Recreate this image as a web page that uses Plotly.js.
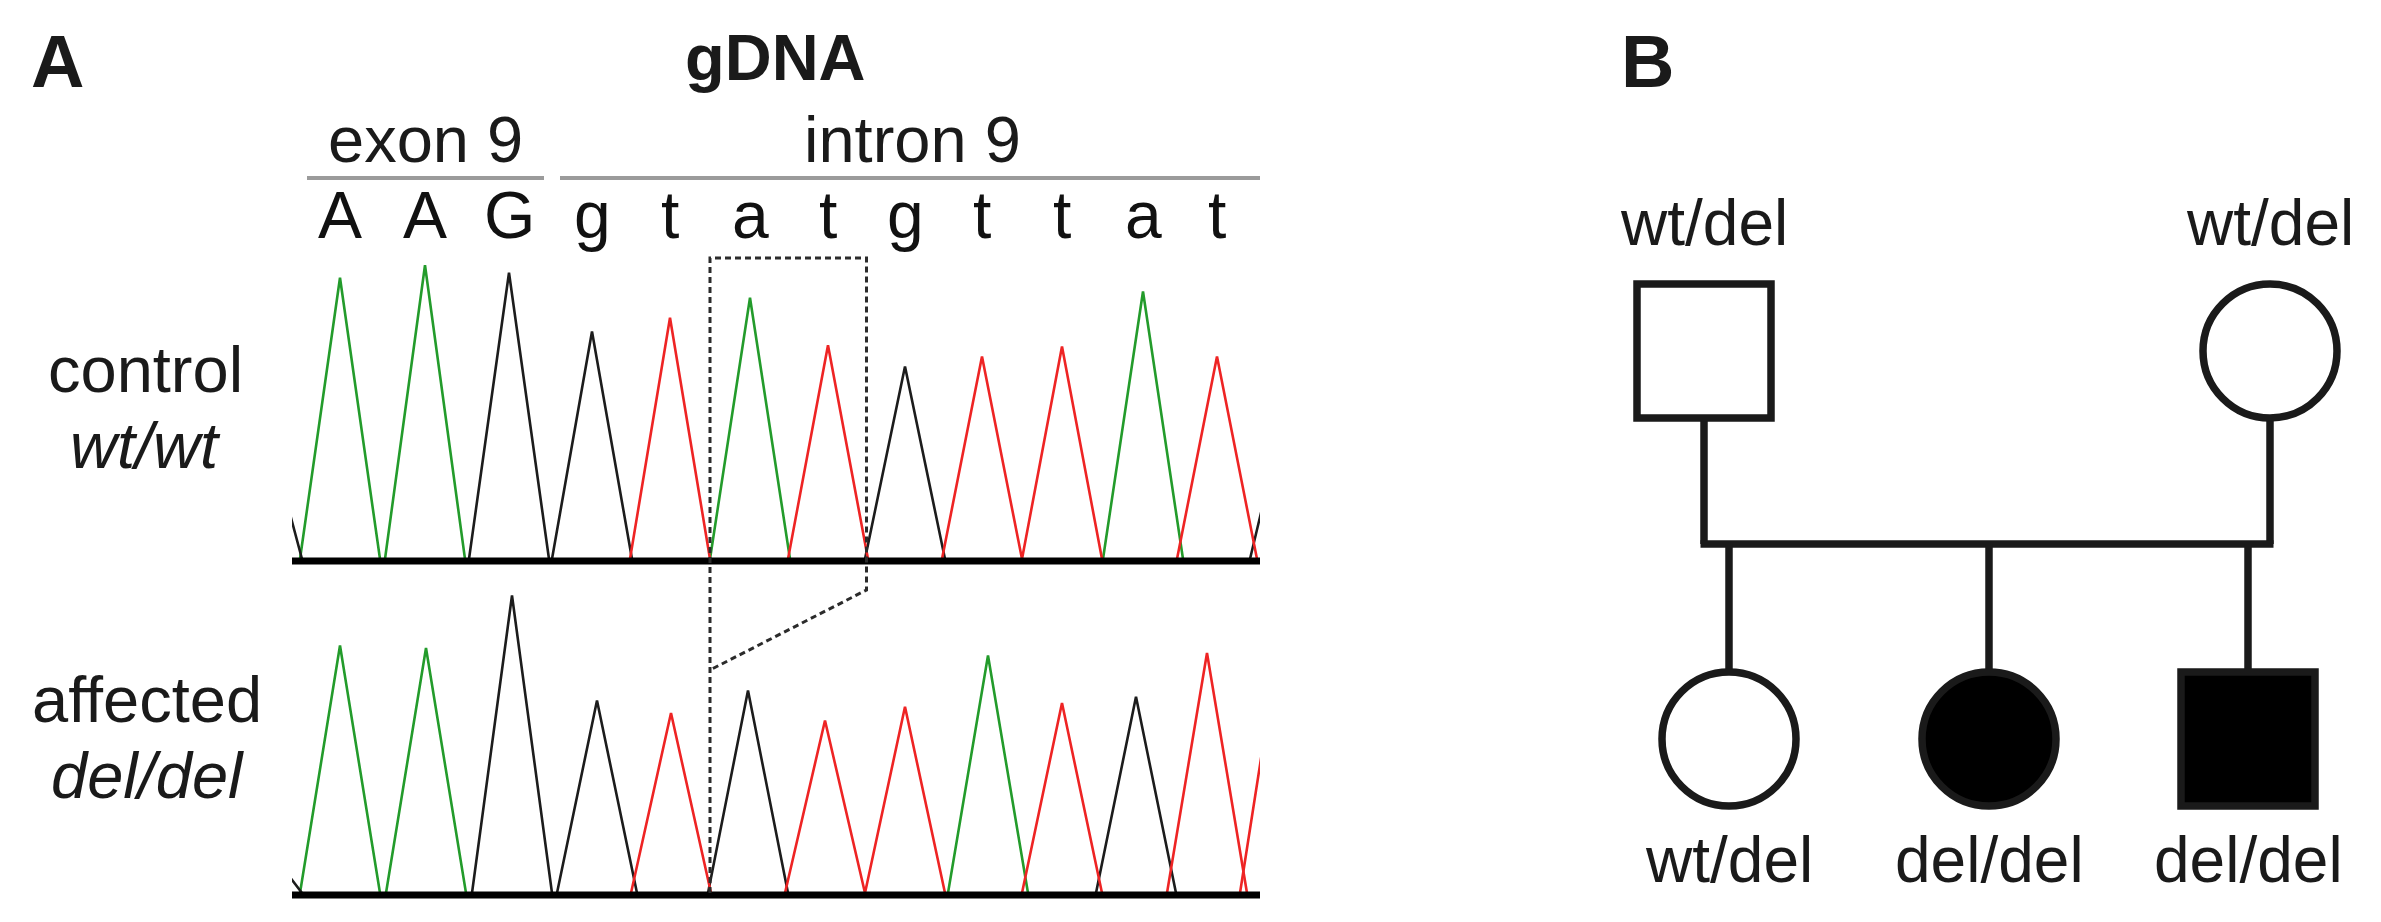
<!DOCTYPE html>
<html>
<head>
<meta charset="utf-8">
<script src="https://cdn.plot.ly/plotly-3.0.1.min.js"></script>
<style>
  html, body { margin: 0; padding: 0; background: #fff; }
  #chart { width: 2381px; height: 922px; }
</style>
</head>
<body>
<div id="chart"></div>
<script>
// sequence read above the traces
const seqLetters = ['A','A','G','g','t','a','t','g','t','t','a','t'];

// control (wt/wt) trace: scan position, called base, peak signal
// first and last entries are the partial peaks cut by the trace edges
const controlScan   = [-30, 48, 133, 217, 300, 378, 458, 536, 613, 690, 770, 851, 925, 998];
const controlBase   = ['G','A','A','G','G','T','A','T','G','T','T','A','T','G'];
const controlSignal = [600, 1125, 1175, 1145, 910, 965, 1045, 855, 770, 810, 850, 1070, 810, 672];

// affected (del/del) trace
const affectedScan   = [-30, 48, 134, 220, 305, 379, 456, 533, 613, 696, 770, 844, 915, 988];
const affectedBase   = ['G','A','A','G','G','T','G','T','T','A','T','G','T','T'];
const affectedSignal = [210, 990, 980, 1190, 770, 720, 810, 690, 745, 950, 760, 785, 960, 1024];

// pedigree
const parentGeno = ['wt/del', 'wt/del'];
const parentSex  = ['M', 'F'];
const childGeno  = ['wt/del', 'del/del', 'del/del'];
const childSex   = ['F', 'F', 'M'];
const childAffected = [false, true, true];

const W = 2381, H = 922;
const FONT = '"Liberation Sans", Arial, Helvetica, sans-serif';
const channelColor = {A: '#239b2b', G: '#1c1c1c', T: '#ee2424', C: '#2030c8'};
const HALF = 40; // half width of a peak in scan units

const px = x => x / W;
const py = y => 1 - y / H;

// one trace per channel, peaks separated by nulls
function traceSet(scan, base, signal, yaxis) {
  const out = [];
  Object.keys(channelColor).forEach(ch => {
    const xs = [], ys = [];
    scan.forEach((s, i) => {
      if (base[i] !== ch) return;
      xs.push(s - HALF, s, s + HALF, null);
      ys.push(0, signal[i], 0, null);
    });
    if (xs.length) {
      out.push({
        type: 'scatter', mode: 'lines', x: xs, y: ys, yaxis: yaxis,
        line: {color: channelColor[ch], width: 2.6},
        hoverinfo: 'skip', connectgaps: false
      });
    }
  });
  return out;
}

const data = [
  ...traceSet(controlScan, controlBase, controlSignal, 'y'),
  ...traceSet(affectedScan, affectedBase, affectedSignal, 'y2')
];

const shapes = [];
const annotations = [];

// thick baselines under the traces
['y', 'y2'].forEach(ax => {
  shapes.push({type: 'line', xref: 'x', yref: ax, x0: 0, x1: 968, y0: -8, y1: -8,
    line: {color: '#000', width: 7}});
});

// exon / intron bars
shapes.push({type: 'line', xref: 'paper', yref: 'paper', x0: px(307), x1: px(544), y0: py(178), y1: py(178),
  line: {color: '#9b9b9b', width: 4}});
shapes.push({type: 'line', xref: 'paper', yref: 'paper', x0: px(560), x1: px(1260), y0: py(178), y1: py(178),
  line: {color: '#9b9b9b', width: 4}});

// dashed box around the deleted "at"
const boxL = (controlScan[5] + controlScan[6]) / 2;
const boxR = (controlScan[7] + controlScan[8]) / 2;
const dash = {color: '#2b2b2b', width: 3, dash: '6px,4px'};
shapes.push({type: 'path', xref: 'x', yref: 'paper',
  path: `M ${boxL},${py(893)} L ${boxL},${py(258)} L ${boxR},${py(258)} L ${boxR},${py(590)} L ${boxL},${py(670)}`,
  line: dash});

// sequence letters over the control peaks
seqLetters.forEach((b, i) => {
  annotations.push({xref: 'x', yref: 'paper', x: controlScan[i + 1], y: py(215), text: b,
    showarrow: false, xanchor: 'center', yanchor: 'middle', font: {family: FONT, size: 66, color: '#111'}});
});

function label(x, yBase, text, size, opts) {
  annotations.push(Object.assign({xref: 'paper', yref: 'paper', x: px(x), y: py(yBase - 0.35 * size), text: text,
    showarrow: false, xanchor: 'center', yanchor: 'middle', font: {family: FONT, size: size, color: '#1a1a1a'}}, opts || {}));
}

label(29, 87, '<b>A</b>', 74, {xanchor: 'left'});
label(1619, 87, '<b>B</b>', 74, {xanchor: 'left'});
label(775, 80, '<b>gDNA</b>', 65);
label(425, 162, 'exon 9', 65);
label(912, 162, 'intron 9', 65);
label(145, 392, 'control', 65);
label(145, 468, '<i>wt/wt</i>', 65);
label(147, 722, 'affected', 65);
label(147, 798, '<i>del/del</i>', 65);

// pedigree geometry (pixel layout)
const parentX = [1704, 2270], parentY = 351, S = 134;
const childX = [1729, 1989, 2248], childY = 739;
const sibY = 544;
const lineStyle = {color: '#1a1a1a', width: 7.5};

function member(cx, cy, sex, filled) {
  const fill = filled ? '#000' : 'rgba(0,0,0,0)';
  const box = {xref: 'paper', yref: 'paper',
    x0: px(cx - S / 2), x1: px(cx + S / 2), y0: py(cy + S / 2), y1: py(cy - S / 2),
    line: lineStyle, fillcolor: fill};
  shapes.push(Object.assign({type: sex === 'M' ? 'rect' : 'circle'}, box));
}

function seg(x0, y0, x1, y1) {
  shapes.push({type: 'line', xref: 'paper', yref: 'paper', x0: px(x0), x1: px(x1), y0: py(y0), y1: py(y1),
    line: lineStyle});
}

// mating line and drops
parentX.forEach(x => seg(x, parentY + S / 2, x, sibY));
seg(parentX[0] - 3.5, sibY, parentX[1] + 3.5, sibY);
childX.forEach(x => seg(x, sibY, x, childY - S / 2));

parentX.forEach((x, i) => {
  member(x, parentY, parentSex[i], false);
  label(x, 245, parentGeno[i], 64);
});
childX.forEach((x, i) => {
  member(x, childY, childSex[i], childAffected[i]);
  label(x, 882, childGeno[i], 64);
});

const layout = {
  width: W, height: H,
  margin: {l: 0, r: 0, t: 0, b: 0},
  paper_bgcolor: '#fff', plot_bgcolor: 'rgba(0,0,0,0)',
  showlegend: false,
  xaxis: {domain: [px(292), px(1260)], range: [0, 968], visible: false, fixedrange: true},
  yaxis: {domain: [py(566.5), py(246.5)], range: [-30, 1250], visible: false, fixedrange: true},
  yaxis2: {domain: [py(900.5), py(580.5)], range: [-30, 1250], visible: false, fixedrange: true, anchor: 'x'},
  shapes: shapes,
  annotations: annotations
};

Plotly.newPlot('chart', data, layout, {staticPlot: true, displayModeBar: false});
</script>
</body>
</html>
